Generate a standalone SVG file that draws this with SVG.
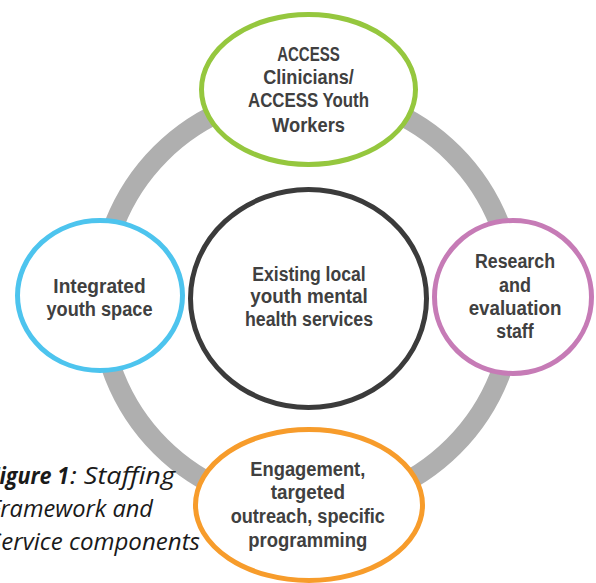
<svg xmlns="http://www.w3.org/2000/svg" width="596" height="583" viewBox="0 0 596 583">
  <style>
    .node { fill: #ffffff; stroke-width: 5; }
    .lbl { font-family: "Liberation Sans", Arial, sans-serif; font-weight: bold; font-size: 20px; fill: #404040; text-anchor: middle; }
    .cap { font-family: "Open Sans", "Liberation Sans", sans-serif; font-style: italic; font-size: 23px; fill: #1a1a1a; }
  </style>
  <rect width="596" height="583" fill="#ffffff"/>

  <!-- ring linking the five service components -->
  <g id="connectors">
    <circle cx="307" cy="300" r="207" fill="none" stroke="#afafaf" stroke-width="20"/>
  </g>

  <g id="node-clinicians">
    <ellipse class="node" cx="308.5" cy="89.5" rx="107" ry="75" stroke="#95c73e"/>
    <text class="lbl" x="308.5" y="60.7" textLength="62.7" lengthAdjust="spacingAndGlyphs">ACCESS</text>
    <text class="lbl" x="308.5" y="83.8" textLength="90.7" lengthAdjust="spacingAndGlyphs">Clinicians/</text>
    <text class="lbl" x="308.5" y="107.4" textLength="121" lengthAdjust="spacingAndGlyphs">ACCESS Youth</text>
    <text class="lbl" x="308.5" y="131.5" textLength="73" lengthAdjust="spacingAndGlyphs">Workers</text>
  </g>

  <g id="node-youth-space">
    <ellipse class="node" cx="100" cy="295.5" rx="82.5" ry="75" stroke="#4dc4ee"/>
    <text class="lbl" x="99.5" y="292.6" textLength="92.3" lengthAdjust="spacingAndGlyphs">Integrated</text>
    <text class="lbl" x="99.5" y="315.6" textLength="106" lengthAdjust="spacingAndGlyphs">youth space</text>
  </g>

  <g id="node-research">
    <ellipse class="node" cx="513" cy="297" rx="78.5" ry="76.5" stroke="#c67bb6"/>
    <text class="lbl" x="515" y="268.3" textLength="80" lengthAdjust="spacingAndGlyphs">Research</text>
    <text class="lbl" x="515" y="291.7" textLength="32" lengthAdjust="spacingAndGlyphs">and</text>
    <text class="lbl" x="515" y="315" textLength="92.7" lengthAdjust="spacingAndGlyphs">evaluation</text>
    <text class="lbl" x="515" y="338.3" textLength="37.3" lengthAdjust="spacingAndGlyphs">staff</text>
  </g>

  <g id="node-local-services">
    <ellipse class="node" cx="308.5" cy="298.5" rx="118" ry="109" stroke="#3b3b3b"/>
    <text class="lbl" x="309" y="280.7" textLength="113.3" lengthAdjust="spacingAndGlyphs">Existing local</text>
    <text class="lbl" x="309" y="303.3" textLength="117.3" lengthAdjust="spacingAndGlyphs">youth mental</text>
    <text class="lbl" x="309" y="326" textLength="128" lengthAdjust="spacingAndGlyphs">health services</text>
  </g>

  <g id="node-engagement">
    <ellipse class="node" cx="309" cy="505" rx="113.5" ry="75.5" stroke="#f79c2b"/>
    <text class="lbl" x="307.8" y="476" textLength="115" lengthAdjust="spacingAndGlyphs">Engagement,</text>
    <text class="lbl" x="307.8" y="499.3" textLength="74.3" lengthAdjust="spacingAndGlyphs">targeted</text>
    <text class="lbl" x="307.8" y="522.7" textLength="154.3" lengthAdjust="spacingAndGlyphs">outreach, specific</text>
    <text class="lbl" x="307.8" y="546.7" textLength="119" lengthAdjust="spacingAndGlyphs">programming</text>
  </g>

  <!-- figure caption, running off the left edge of the page -->
  <g id="caption">
    <text class="cap" x="-12" y="483.5" font-weight="bold" textLength="81" lengthAdjust="spacingAndGlyphs">Figure 1</text>
    <text class="cap" x="70" y="483.5" textLength="105" lengthAdjust="spacingAndGlyphs">: Staffing</text>
    <text class="cap" x="-11" y="517" textLength="164" lengthAdjust="spacingAndGlyphs">Framework and</text>
    <text class="cap" x="-11" y="550" textLength="211" lengthAdjust="spacingAndGlyphs">Service components</text>
  </g>
</svg>
